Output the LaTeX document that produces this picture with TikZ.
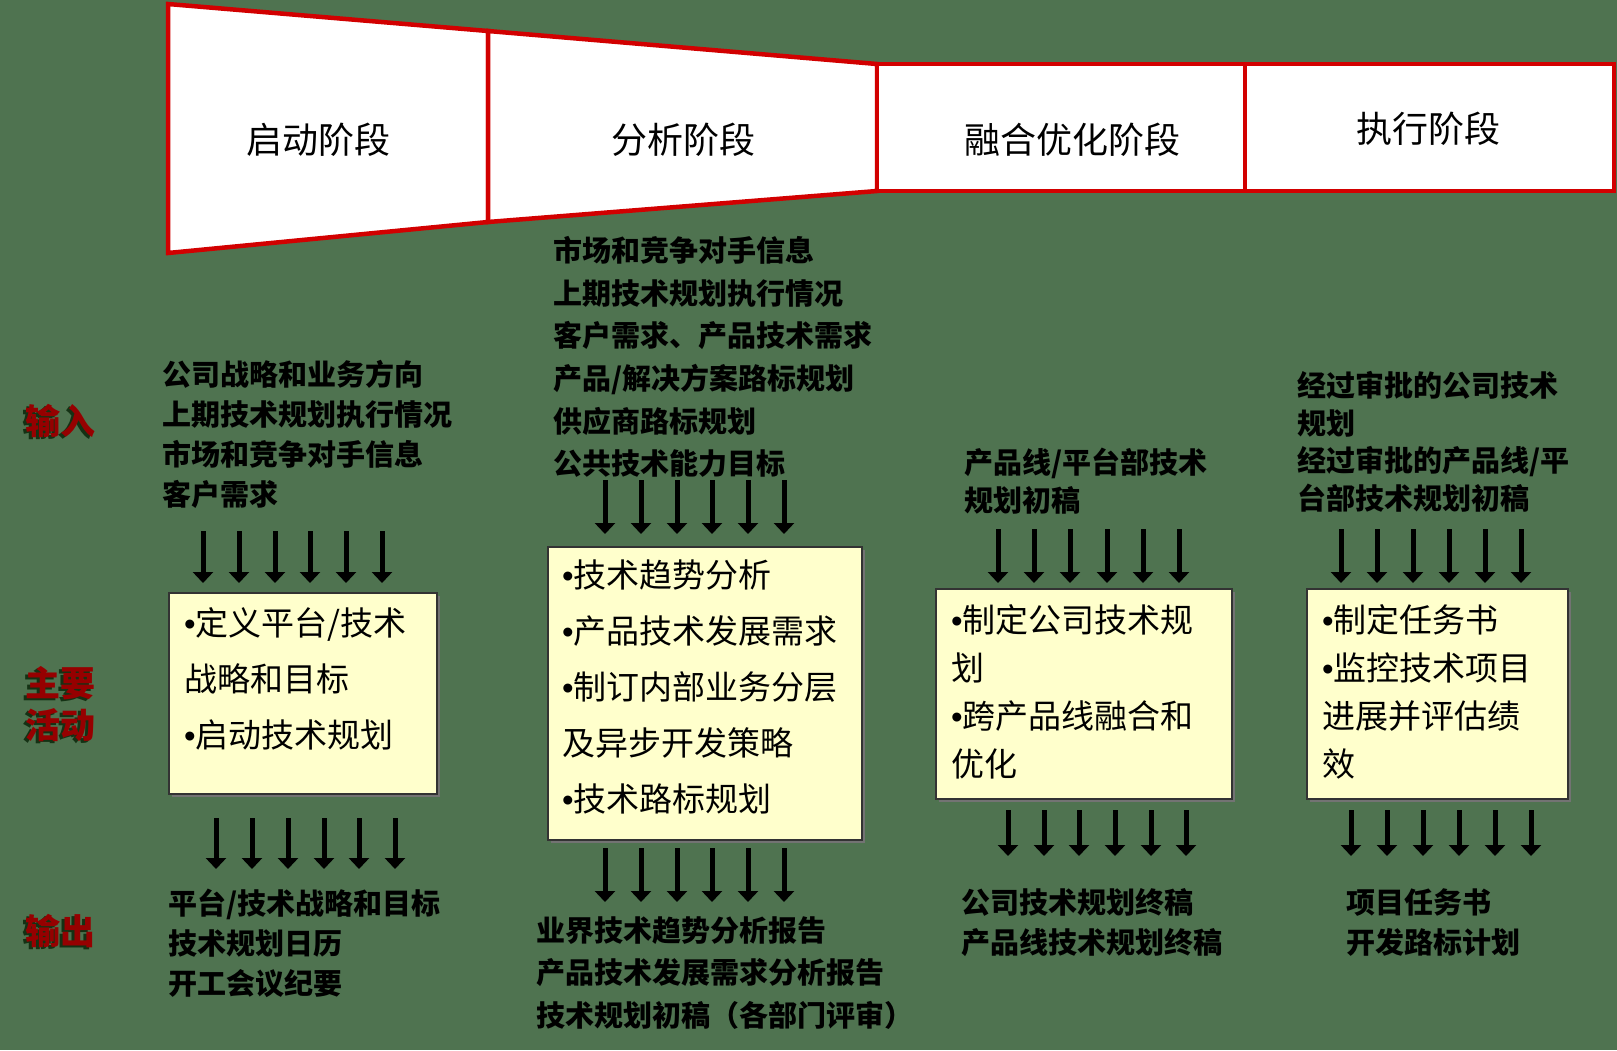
\documentclass[tikz,border=0pt]{standalone}
\usepackage{fontspec}
\newfontfamily\cjk{Noto Sans CJK SC}
\newfontfamily\latinsans{Liberation Sans}
\usetikzlibrary{arrows.meta,shadows}
\definecolor{bggreen}{RGB}{79,115,80}
\definecolor{funred}{RGB}{210,0,0}
\definecolor{boxfill}{RGB}{255,255,204}
\definecolor{labred}{RGB}{150,0,0}
\definecolor{shadowgreen}{RGB}{20,50,20}
\newcommand\bul{{\latinsans •}}
\begin{document}
\begin{tikzpicture}[x=1pt,y=-1pt,
  every node/.style={inner sep=0pt,outer sep=0pt},
  iotext/.style={anchor=west,align=left,text=black,font=\cjk\bfseries\fontsize{29}{#1}\selectfont},
  iotext/.default=42,
  acttext/.style={anchor=west,align=left,text=black,font=\cjk\fontsize{33}{#1}\selectfont},
  acttext/.default=56,
  actbox/.style={draw=black!80,line width=1.5pt,fill=boxfill,anchor=north west,
    drop shadow={shadow xshift=3pt,shadow yshift=-3pt,fill=black!55,opacity=1}},
  phase/.style={draw=funred,line width=4.5pt,fill=white,line join=miter},
  phasetext/.style={text=black,font=\cjk\fontsize{36}{40}\selectfont},
  sidelab/.style={text=labred,font=\cjk\bfseries\fontsize{35}{42}\selectfont,align=center},
  sideshadow/.style={text=shadowgreen,font=\cjk\bfseries\fontsize{35}{42}\selectfont,align=center},
  darr/.style={draw=black,line width=5pt,-{Triangle[width=20pt,length=11pt]}}
]
\fill[bggreen] (0,0) rectangle (1617,1050);
\useasboundingbox (0,0) rectangle (1617,1050);

% funnel header
\draw[phase] (168,4) -- (488,31) -- (488,222) -- (168,253) -- cycle;
\draw[phase] (488,31) -- (877,64) -- (877,191) -- (488,222) -- cycle;
\draw[phase] (877,64) rectangle (1245,191);
\draw[phase] (1245,64) rectangle (1614,191);
\node[phasetext] (p1) at (318,140) {启动阶段};
\node[phasetext] (p2) at (683,140) {分析阶段};
\node[phasetext] (p3) at (1072,140) {融合优化阶段};
\node[phasetext] (p4) at (1428,129) {执行阶段};

% side labels
\node[sideshadow] (l1s) at (57,423) {输入};
\node[sidelab] (l1) at (60,421) {输入};
\node[sideshadow] (l2s) at (57,706) {主要\\活动};
\node[sidelab] (l2) at (60,704) {主要\\活动};
\node[sideshadow] (l3s) at (57,933) {输出};
\node[sidelab] (l3) at (60,931) {输出};

% inputs
\node[iotext=40] (in1) at (162,434) {公司战略和业务方向\\上期技术规划执行情况\\市场和竞争对手信息\\客户需求};
\node[iotext=42.6] (in2) at (553,357) {市场和竞争对手信息\\上期技术规划执行情况\\客户需求、产品技术需求\\产品/解决方案路标规划\\供应商路标规划\\公共技术能力目标};
\node[iotext=38] (in3) at (964,481) {产品线/平台部技术\\规划初稿};
\node[iotext=37.5] (in4) at (1297,442) {经过审批的公司技术\\规划\\经过审批的产品线/平\\台部技术规划初稿};

% activity boxes
\node[actbox,minimum width=268pt,minimum height=201pt] (b1) at (169,593) {};
\node[actbox,minimum width=314pt,minimum height=293pt] (b2) at (548,547) {};
\node[actbox,minimum width=296pt,minimum height=210pt] (b3) at (936,589) {};
\node[actbox,minimum width=261pt,minimum height=210pt] (b4) at (1307,589) {};
\node[acttext=56] (b1t) at (184,679) {\bul 定义平台/技术\\战略和目标\\\bul 启动技术规划};
\node[acttext=56] (b2t) at (562,687) {\bul 技术趋势分析\\\bul 产品技术发展需求\\\bul 制订内部业务分层\\及异步开发策略\\\bul 技术路标规划};
\node[acttext=48] (b3t) at (951,692) {\bul 制定公司技术规\\划\\\bul 跨产品线融合和\\优化};
\node[acttext=48] (b4t) at (1322,692) {\bul 制定任务书\\\bul 监控技术项目\\进展并评估绩\\效};

% outputs
\node[iotext=40] (out1) at (168,943) {平台/技术战略和目标\\技术规划日历\\开工会议纪要};
\node[iotext=42.5] (out2) at (536,973) {业界技术趋势分析报告\\产品技术发展需求分析报告\\技术规划初稿（各部门评审）};
\node[iotext=40] (out3) at (961,923) {公司技术规划终稿\\产品线技术规划终稿};
\node[iotext=40] (out4) at (1346,923) {项目任务书\\开发路标计划};

% arrows
\foreach \x [count=\i] in {203,239,275,310,346,382}{
  \coordinate (a1s\i) at (\x,531); \coordinate (a1e\i) at (\x,583);
  \draw[darr] (a1s\i) -- (a1e\i);}
\foreach \x [count=\i] in {216,252,288,324,359,395}{
  \coordinate (o1s\i) at (\x,818); \coordinate (o1e\i) at (\x,869);
  \draw[darr] (o1s\i) -- (o1e\i);}
\foreach \x [count=\i] in {605,641,677,712,748,784}{
  \coordinate (a2s\i) at (\x,480); \coordinate (a2e\i) at (\x,534);
  \draw[darr] (a2s\i) -- (a2e\i);}
\foreach \x [count=\i] in {605,641,677,712,748,784}{
  \coordinate (o2s\i) at (\x,848); \coordinate (o2e\i) at (\x,902);
  \draw[darr] (o2s\i) -- (o2e\i);}
\foreach \x [count=\i] in {998,1034,1070,1107,1143,1179}{
  \coordinate (a3s\i) at (\x,529); \coordinate (a3e\i) at (\x,583);
  \draw[darr] (a3s\i) -- (a3e\i);}
\foreach \x [count=\i] in {1008,1044,1079,1115,1151,1186}{
  \coordinate (o3s\i) at (\x,810); \coordinate (o3e\i) at (\x,856);
  \draw[darr] (o3s\i) -- (o3e\i);}
\foreach \x [count=\i] in {1341,1377,1413,1449,1485,1521}{
  \coordinate (a4s\i) at (\x,529); \coordinate (a4e\i) at (\x,583);
  \draw[darr] (a4s\i) -- (a4e\i);}
\foreach \x [count=\i] in {1351,1387,1423,1459,1495,1531}{
  \coordinate (o4s\i) at (\x,810); \coordinate (o4e\i) at (\x,856);
  \draw[darr] (o4s\i) -- (o4e\i);}
\end{tikzpicture}
\end{document}
